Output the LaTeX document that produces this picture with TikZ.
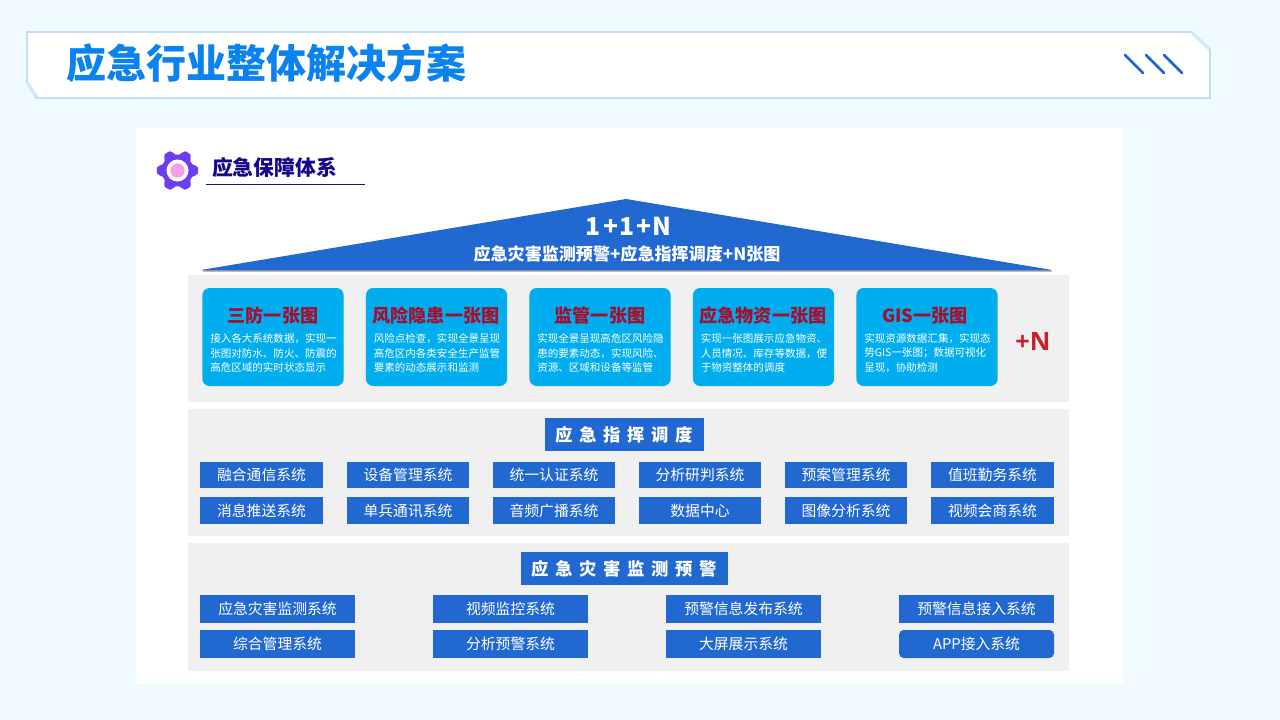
\documentclass[tikz,border=0pt]{standalone}
\usepackage{fontspec}
\setmainfont{Noto Sans CJK SC}
\newfontfamily\latinb{Open Sans}
\def\gp{\hspace{5pt}}
\def\fs#1{\fontsize{#1}{#1}\selectfont}
\definecolor{pagebg}{HTML}{EFFBFF}
\definecolor{edge}{HTML}{C3DCF8}
\definecolor{titleblue}{HTML}{0A82F0}
\definecolor{royal}{HTML}{2268D1}
\definecolor{slashblue}{HTML}{1464DC}
\definecolor{panel}{HTML}{F0F0F0}
\definecolor{cyanbox}{HTML}{00AEEF}
\definecolor{darkred}{HTML}{A50F2D}
\definecolor{plusred}{HTML}{C8202F}
\definecolor{navy}{HTML}{14088C}
\definecolor{gearp}{HTML}{6F3DF0}
\definecolor{gearpink}{HTML}{F3A0E8}
\tikzset{
  x=0.75pt,y=-0.75pt,
  panelbox/.style={draw=none,fill=panel,minimum width=660.75pt,inner sep=0pt},
  cardbox/.style={draw=none,fill=cyanbox,rounded corners=5.5pt,minimum width=106pt,minimum height=73.5pt,inner sep=0pt},
  cardtitle/.style={text=darkred,font=\fs{13.6}\bfseries,inner sep=0pt},
  cardbody/.style={text=white,font=\fontsize{7.9}{10.6}\selectfont,align=left,anchor=west,inner sep=0pt},
  headbox/.style={fill=royal,text=white,font=\fs{13}\bfseries,minimum height=24.75pt,inner sep=0pt},
  cmdbox/.style={fill=royal,text=white,font=\fs{11.1},minimum width=92pt,minimum height=19.8pt,inner sep=0pt},
  warnbox/.style={fill=royal,text=white,font=\fs{11.1},minimum width=116.25pt,minimum height=21pt,inner sep=0pt},
  slash/.style={draw=slashblue,line width=2pt,line cap=round},
}
\begin{document}
\begin{tikzpicture}
\useasboundingbox (0,0) rectangle (1280,720);
\fill[pagebg] (0,0) rectangle (1280,720);
% banner
\draw[edge,line width=1.2pt,fill=white] (27,32) -- (1192,32) -- (1210,49) -- (1210,98) -- (36,98) -- (27,83) -- cycle;
\draw[edge!70,line width=2pt] (1192,33) -- (1209,49);
\draw[edge!70,line width=2pt] (28,83) -- (37,97);
\node[text=titleblue,font=\fontsize{30}{30}\selectfont\bfseries,inner sep=0pt] (title) at (266.5,63) {应急行业整体解决方案};
\draw[slash] (1125,55) -- (1143,73);
\draw[slash] (1146,55) -- (1164,73);
\draw[slash] (1164,55) -- (1182,73);
% main panel
\fill[white] (136,128) rectangle (1123,684);
% gear
\fill[gearp,draw=gearp,line width=1pt,line join=round] plot[domain=0:360,samples=180,smooth] ({177.5+(17.6+2.4*max(-1,min(1,1.4*cos(6*\x))))*cos(\x)},{170.5+(17.6+2.4*max(-1,min(1,1.4*cos(6*\x))))*sin(\x)}) -- cycle;
\fill[white] (177.5,170.5) circle (11);
\fill[gearpink] (177.5,170.5) circle (7.2);
\node[text=navy,font=\fs{15.6}\bfseries,inner sep=0pt] (sec) at (274.5,168) {应急保障体系};
\draw[navy!85!violet,line width=0.75pt] (206,184.5) -- (365,184.5);
% roof
\fill[gray!80] (203,271.5) -- (1052,271.5) -- (1050,270) -- (203,270) -- cycle;
\fill[royal] (201,270) -- (626,199) -- (1052,270) -- cycle;
\node[text=white,font=\fs{18.5}\bfseries,inner sep=0pt] (rooft) at (628.5,226) {1\kern2pt+\kern1pt1\kern1pt+\kern1pt N};
\node[text=white,font=\fs{12.8}\bfseries,inner sep=0pt] (roofs) at (627,254) {应急灾害监测预警+应急指挥调度+N张图};
% panels
\node[panelbox,minimum height=95.25pt] (p1) at (628.5,338.5) {};
\node[panelbox,minimum height=95.25pt] (p2) at (628.5,472.5) {};
\node[panelbox,minimum height=96pt] (p3) at (628.5,607) {};
% cards
\node[cardbox] (c1) at (273,337) {};
\node[cardbox] (c2) at (436.5,337) {};
\node[cardbox] (c3) at (600,337) {};
\node[cardbox] (c4) at (763.5,337) {};
\node[cardbox] (c5) at (927,337) {};
\node[cardtitle] (t1) at (273,316) {三防一张图};
\node[cardtitle] (t2) at (436,316) {风险隐患一张图};
\node[cardtitle] (t3) at (600,316) {监管一张图};
\node[cardtitle] (t4) at (763,316) {应急物资一张图};
\node[cardtitle] (t5) at (925,316) {GIS一张图};
\node[cardbody] (b1) at (210,353) {接入各大系统数据，实现一\\张图对防水、防火、防震的\\高危区域的实时状态显示};
\node[cardbody] (b2) at (373.5,353) {风险点检查，实现全景呈现\\高危区内各类安全生产监管\\要素的动态展示和监测};
\node[cardbody] (b3) at (537,353) {实现全景呈现高危区风险隐\\患的要素动态，实现风险、\\资源、区域和设备等监管};
\node[cardbody] (b4) at (700.5,353) {实现一张图展示应急物资、\\人员情况、库存等数据，便\\于物资整体的调度};
\node[cardbody] (b5) at (864,353) {实现资源数据汇集，实现态\\势GIS一张图；数据可视化\\呈现，协助检测};
\node[text=plusred,font=\latinb\fs{19}\bfseries,inner sep=0pt] (plus) at (1033,341) {+N};
% command
\node[headbox,minimum width=119.25pt] (h2) at (624.5,434.5) {\raisebox{-1pt}{应\gp 急\gp 指\gp 挥\gp 调\gp 度}};
\node[cmdbox] (a1) at (261.5,475) {融合通信系统};
\node[cmdbox] (a2) at (408,475) {设备管理系统};
\node[cmdbox] (a3) at (554,475) {统一认证系统};
\node[cmdbox] (a4) at (700,475) {分析研判系统};
\node[cmdbox] (a5) at (846,475) {预案管理系统};
\node[cmdbox] (a6) at (992.5,475) {值班勤务系统};
\node[cmdbox] (a7) at (261.5,510.5) {消息推送系统};
\node[cmdbox] (a8) at (408,510.5) {单兵通讯系统};
\node[cmdbox] (a9) at (554,510.5) {音频广播系统};
\node[cmdbox] (a10) at (700,510.5) {数据中心};
\node[cmdbox] (a11) at (846,510.5) {图像分析系统};
\node[cmdbox] (a12) at (992.5,510.5) {视频会商系统};
% warning
\node[headbox,minimum width=155.25pt] (h3) at (624.5,568.5) {\raisebox{-1.2pt}{应\gp 急\gp 灾\gp 害\gp 监\gp 测\gp 预\gp 警}};
\node[warnbox] (w1) at (277.5,609) {应急灾害监测系统};
\node[warnbox] (w2) at (510.5,609) {视频监控系统};
\node[warnbox] (w3) at (743.5,609) {预警信息发布系统};
\node[warnbox] (w4) at (976.5,609) {预警信息接入系统};
\node[warnbox] (w5) at (277.5,644) {综合管理系统};
\node[warnbox] (w6) at (510.5,644) {分析预警系统};
\node[warnbox] (w7) at (743.5,644) {大屏展示系统};
\node[warnbox,rounded corners=3.5pt] (w8) at (976.5,644) {APP接入系统};
\end{tikzpicture}
\end{document}
